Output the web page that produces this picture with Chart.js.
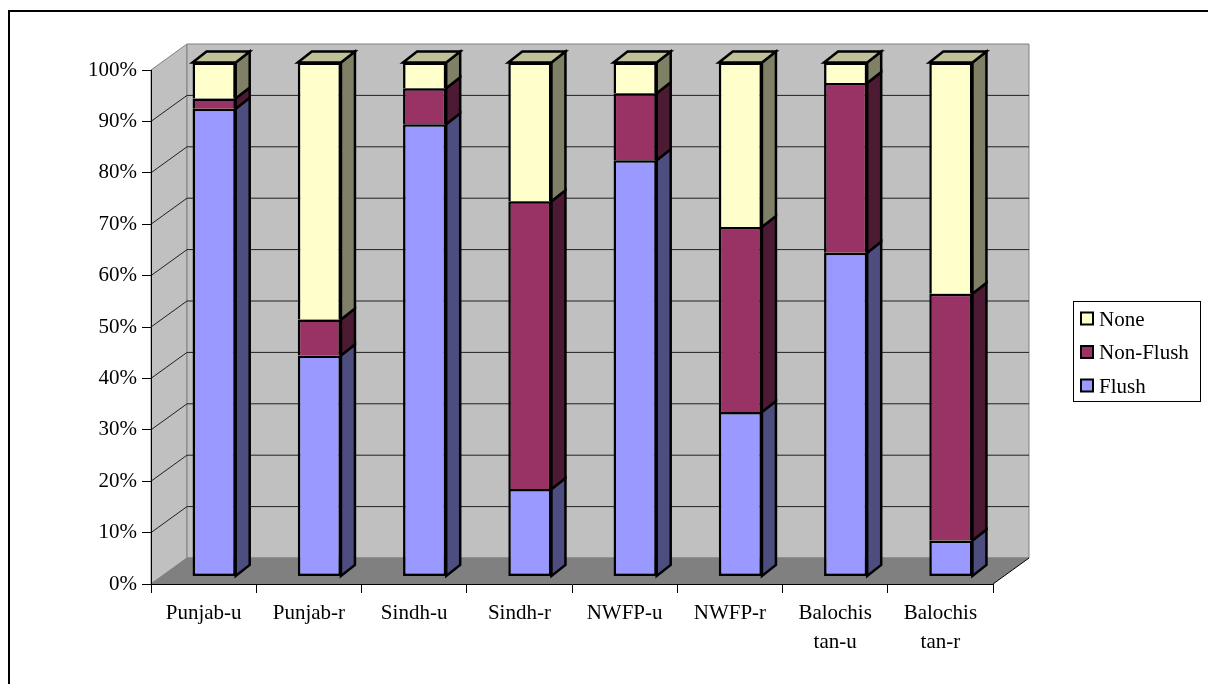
<!DOCTYPE html>
<html>
<head>
<meta charset="utf-8">
<script src="https://cdn.jsdelivr.net/npm/chart.js@4.4.1/dist/chart.umd.min.js"></script>
<style>
  html, body { margin: 0; padding: 0; background: #ffffff; overflow: hidden; }
  canvas { display: block; }
</style>
</head>
<body>
<canvas id="chart" width="1208" height="684"></canvas>
<script>
// Sanitation type by province, urban (-u) and rural (-r), percent of households
const categories = [
  ['Punjab-u'], ['Punjab-r'], ['Sindh-u'], ['Sindh-r'],
  ['NWFP-u'], ['NWFP-r'], ['Balochis', 'tan-u'], ['Balochis', 'tan-r']
];
const seriesNames = ['Flush', 'Non-Flush', 'None'];
const flush    = [91, 43, 88, 17, 81, 32, 63,  7];
const nonFlush = [ 2,  7,  7, 56, 13, 36, 33, 48];
const none     = [ 7, 50,  5, 27,  6, 32,  4, 45];
const yTicks   = [0, 10, 20, 30, 40, 50, 60, 70, 80, 90, 100];

// colours: front face, side face, and the lid of the top segment
const frontColors = ['#9999FF', '#993366', '#FFFFCC'];
const sideColors  = ['#4D4D80', '#4D1A33', '#808066'];
const lidColor    = '#C0C099';

const FONT = "'Times New Roman', 'Liberation Serif', serif";
const WALL = { dx: 36, dy: -26 };                    // depth of the walls/floor
const BAR  = { ox: 10.5, oy: -7.5, dx: 14, dy: -11 }; // bar placement and depth

function poly(ctx, pts, fill, stroke, lw) {
  ctx.beginPath();
  ctx.moveTo(pts[0][0], pts[0][1]);
  for (let i = 1; i < pts.length; i++) ctx.lineTo(pts[i][0], pts[i][1]);
  ctx.closePath();
  if (fill) { ctx.fillStyle = fill; ctx.fill(); }
  if (stroke) { ctx.strokeStyle = stroke; ctx.lineWidth = lw || 1; ctx.stroke(); }
}

const scene3d = {
  id: 'scene3d',
  beforeDraw(chart) {
    const { ctx, chartArea: a, scales: { y } } = chart;
    const L = a.left, R = a.right, T = a.top, B = a.bottom;
    const dx = WALL.dx, dy = WALL.dy;
    ctx.save();
    // side wall
    poly(ctx, [[L, T], [L + dx, T + dy], [L + dx, B + dy], [L, B]], '#C0C0C0', '#808080', 1);
    // back wall
    poly(ctx, [[L + dx, T + dy], [R + dx, T + dy], [R + dx, B + dy], [L + dx, B + dy]], '#C0C0C0', '#808080', 1);
    // gridlines across side wall and back wall
    ctx.strokeStyle = '#202020';
    ctx.lineWidth = 1;
    yTicks.forEach(v => {
      if (v === 0 || v === 100) return;
      const py = y.getPixelForValue(v);
      ctx.beginPath();
      ctx.moveTo(L, py);
      ctx.lineTo(L + dx, py + dy);
      ctx.lineTo(R + dx, py + dy);
      ctx.stroke();
    });
    // floor
    poly(ctx, [[L, B], [L + dx, B + dy], [R + dx, B + dy], [R, B]], '#808080', null);
    ctx.strokeStyle = '#808080';
    ctx.beginPath();
    ctx.moveTo(L, B); ctx.lineTo(L + dx, B + dy); ctx.lineTo(R + dx, B + dy);
    ctx.stroke();
    ctx.strokeStyle = '#000000';
    ctx.beginPath();
    ctx.moveTo(R, B); ctx.lineTo(R + dx, B + dy);
    ctx.stroke();
    ctx.restore();
  },
  beforeDatasetsDraw(chart) {
    chart.ctx.save();
    chart.ctx.translate(BAR.ox, BAR.oy);
  },
  afterDatasetsDraw(chart) {
    const ctx = chart.ctx;
    const n = chart.data.datasets.length;
    ctx.lineJoin = 'miter';
    for (let i = 0; i < n; i++) {
      const meta = chart.getDatasetMeta(i);
      meta.data.forEach(bar => {
        const p = bar.getProps(['x', 'y', 'base', 'width'], true);
        const l = p.x - p.width / 2, r = p.x + p.width / 2;
        const top = Math.min(p.y, p.base), bot = Math.max(p.y, p.base);
        poly(ctx, [[r, top], [r + BAR.dx, top + BAR.dy], [r + BAR.dx, bot + BAR.dy], [r, bot]],
             sideColors[i], '#000000', 2.5);
        if (i === n - 1) {
          poly(ctx, [[l, top], [l + BAR.dx, top + BAR.dy], [r + BAR.dx, top + BAR.dy], [r, top]],
               lidColor, '#000000', 2.5);
        }
      });
    }
    ctx.restore();
  },
  afterDraw(chart) {
    const ctx = chart.ctx;
    ctx.save();
    // outer frame
    ctx.fillStyle = '#000000';
    ctx.fillRect(8, 10, 1200, 2);
    ctx.fillRect(8, 10, 2, 674);
    // legend, top series first
    ctx.fillStyle = '#ffffff';
    ctx.fillRect(1073, 301, 128, 101);
    ctx.strokeStyle = '#000000';
    ctx.lineWidth = 1;
    ctx.strokeRect(1073.5, 301.5, 127, 100);
    ctx.font = '21px ' + FONT;
    ctx.textBaseline = 'alphabetic';
    ctx.textAlign = 'left';
    const ds = chart.data.datasets;
    for (let k = 0; k < ds.length; k++) {
      const i = ds.length - 1 - k;
      const cy = 318.5 + k * 33.5;
      ctx.fillStyle = '#000000';
      ctx.fillRect(1080, cy - 7, 14, 14);
      ctx.fillStyle = frontColors[i];
      ctx.fillRect(1082, cy - 5, 10, 10);
      ctx.fillStyle = '#000000';
      ctx.fillText(ds[i].label, 1099, cy + 7);
    }
    ctx.restore();
  }
};

const seriesData = [flush, nonFlush, none];
const datasets = seriesNames.map((name, i) => ({
  label: name,
  data: seriesData[i],
  backgroundColor: frontColors[i],
  borderColor: '#000000',
  borderWidth: 2.5,
  borderSkipped: i === 0 ? false : 'start',
  clip: false,
  barPercentage: 0.41,
  categoryPercentage: 1.0
}));

new Chart(document.getElementById('chart'), {
  type: 'bar',
  data: { labels: categories, datasets },
  plugins: [scene3d],
  options: {
    responsive: false,
    animation: false,
    devicePixelRatio: 1,
    layout: { padding: { left: 0, top: 70, right: 215, bottom: 0 } },
    plugins: { legend: { display: false }, tooltip: { enabled: false } },
    scales: {
      x: {
        stacked: true,
        offset: true,
        grid: { display: true, offset: true, drawOnChartArea: false, drawTicks: true, tickLength: 9, color: '#000000' },
        border: { display: true, color: '#000000', width: 1 },
        ticks: { color: '#000000', font: { family: FONT, size: 21, lineHeight: 1.38 }, padding: 6, maxRotation: 0, autoSkip: false },
        afterFit(s) { s.height = 100; }
      },
      y: {
        stacked: true,
        min: 0, max: 100,
        afterBuildTicks(s) { s.ticks = yTicks.map(v => ({ value: v })); },
        grid: { display: true, drawOnChartArea: false, drawTicks: true, tickLength: 9, color: '#000000' },
        border: { display: true, color: '#000000', width: 1 },
        ticks: { color: '#000000', font: { family: FONT, size: 21 }, padding: 5, callback: v => v + '%' },
        afterFit(s) { s.width = 151; }
      }
    }
  }
});
</script>
</body>
</html>
